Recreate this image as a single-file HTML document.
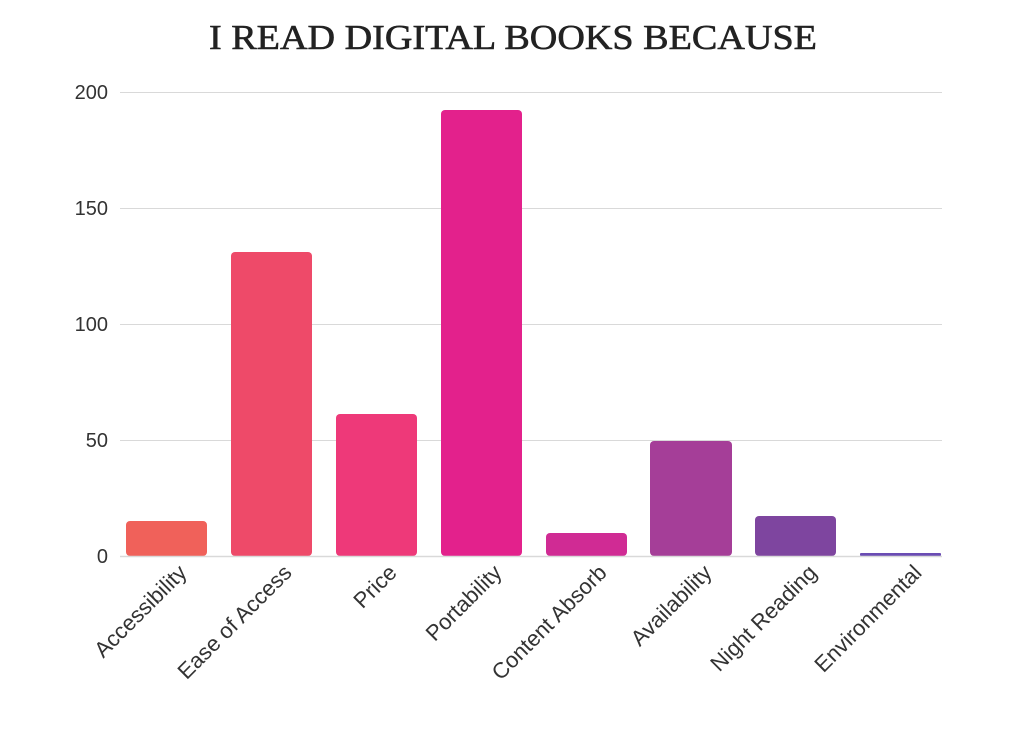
<!DOCTYPE html>
<html><head><meta charset="utf-8"><style>
html,body{margin:0;padding:0;background:#fff;width:1024px;height:750px;overflow:hidden}
</style></head><body>
<svg width="1024" height="750" xmlns="http://www.w3.org/2000/svg">
<text x="513" y="49" text-anchor="middle" font-family="Liberation Serif, serif" font-size="35" fill="#222" stroke="#222" stroke-width="0.6" textLength="608" lengthAdjust="spacingAndGlyphs">I READ DIGITAL BOOKS BECAUSE</text>
<g stroke="#d9d9d9" stroke-width="1">
<line x1="120" x2="942" y1="92.5" y2="92.5"/>
<line x1="120" x2="942" y1="208.5" y2="208.5"/>
<line x1="120" x2="942" y1="324.5" y2="324.5"/>
<line x1="120" x2="942" y1="440.5" y2="440.5"/>
</g>
<g font-family="Liberation Sans, sans-serif" font-size="20" fill="#333" text-anchor="end">
<text x="108" y="99">200</text>
<text x="108" y="215">150</text>
<text x="108" y="331">100</text>
<text x="108" y="447">50</text>
<text x="108" y="563">0</text>
</g>
<g>
<rect x="126" y="521" width="81" height="35" rx="4" fill="#f0615a"/>
<rect x="231" y="252" width="81" height="304" rx="4" fill="#ee4a69"/>
<rect x="336" y="414" width="81" height="142" rx="4" fill="#ee3979"/>
<rect x="441" y="110" width="81" height="446" rx="4" fill="#e3218c"/>
<rect x="546" y="533" width="81" height="23" rx="4" fill="#d02b94"/>
<rect x="650" y="441" width="82" height="115" rx="4" fill="#a53e98"/>
<rect x="755" y="516" width="81" height="40" rx="4" fill="#7e459f"/>
<rect x="860" y="553" width="81" height="3" rx="1" fill="#6a4cb3"/>
</g>
<line x1="120" x2="942" y1="556.5" y2="556.5" stroke="#d9d9d9" stroke-width="1.5"/>
<g font-family="Liberation Sans, sans-serif" font-size="22" fill="#333" text-anchor="end">
<text transform="translate(188,574) rotate(-45)">Accessibility</text>
<text transform="translate(293,574) rotate(-45)">Ease of Access</text>
<text transform="translate(398,574) rotate(-45)">Price</text>
<text transform="translate(503,574) rotate(-45)">Portability</text>
<text transform="translate(608,574) rotate(-45)">Content Absorb</text>
<text transform="translate(713,574) rotate(-45)">Availability</text>
<text transform="translate(818,574) rotate(-45)">Night Reading</text>
<text transform="translate(923,574) rotate(-45)">Environmental</text>
</g>
</svg>
</body></html>
